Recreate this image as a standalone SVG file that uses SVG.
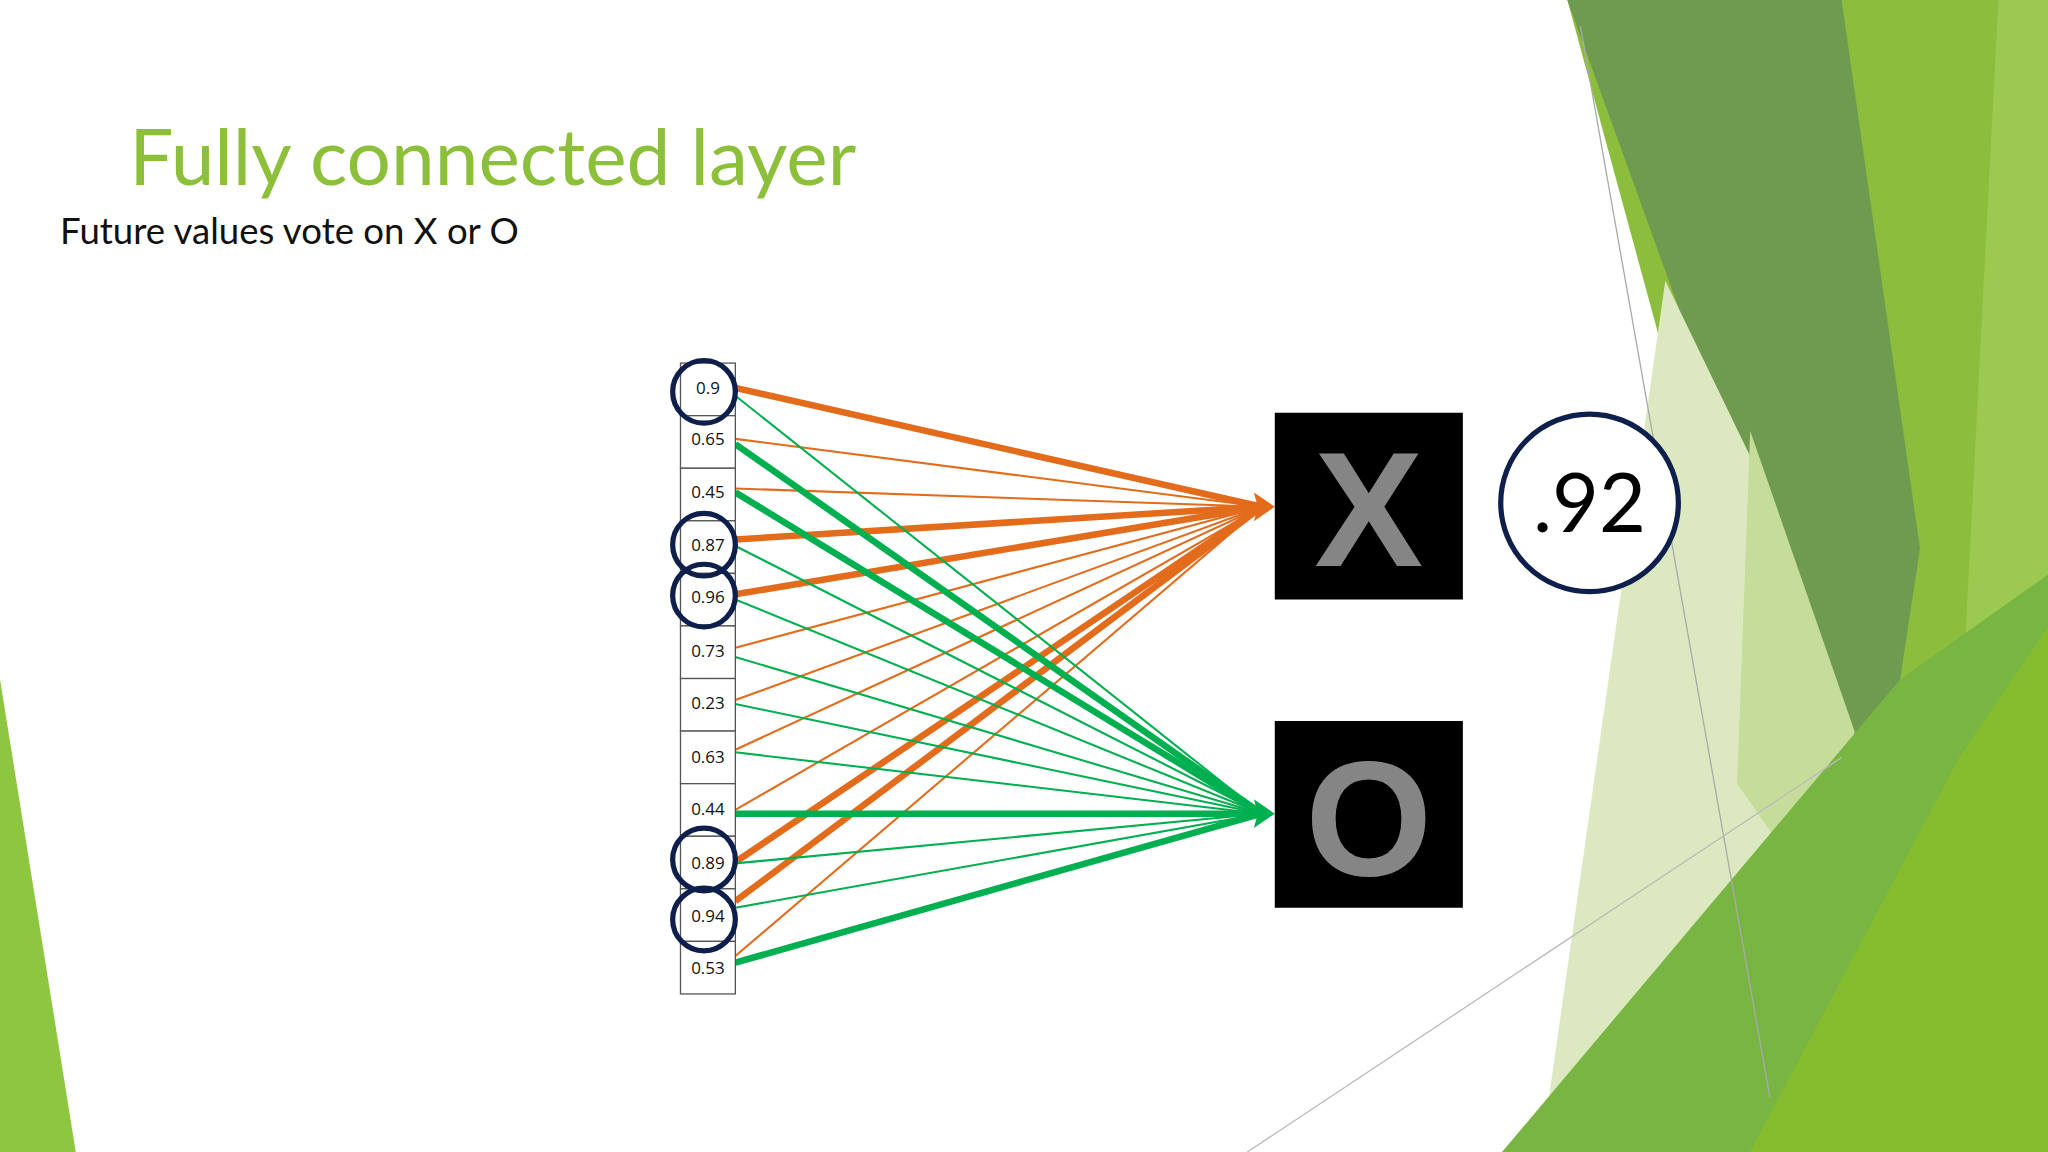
<svg xmlns="http://www.w3.org/2000/svg" width="2048" height="1152" viewBox="0 0 2048 1152">
<defs>
<style>
.o{stroke:#e36b1c;fill:none}
.g{stroke:#00b050;fill:none}
.tk{stroke-width:5}
.tn{stroke-width:1.6}
.cell{fill:#fff;stroke:#555;stroke-width:1}
.lbl{font-family:"Open Sans",sans-serif;font-size:13px;text-anchor:middle;fill:#111}
.ring{fill:none;stroke:#0f1f4b;stroke-width:4}
</style>
</defs>
<rect width="2048" height="1152" fill="#fff"/>
<g transform="scale(1.30612)">
<g id="background">
<polygon points="0,520 58,882 0,882" fill="#8dc63f"/>
<polygon points="1200,0 1568,0 1568,882 1440,882" fill="#8dbd3c"/>
<polygon points="1530,0 1568,0 1568,882 1470,882 1500,580" fill="#9cc94f"/>
<polygon points="1200,0 1410,0 1470,420 1435,650" fill="#6f9b50"/>
<polygon points="1275,215 1350,370 1420,600 1360,882 1180,882" fill="#dce9c0"/>
<polygon points="1340,330 1420,560 1400,700 1330,600" fill="#c5dc9a"/>
<polygon points="1150,882 1455,520 1568,440 1568,882" fill="#79b543"/>
<polygon points="1340,882 1500,580 1568,480 1568,882" fill="#86bd2f"/>
<line x1="1210" y1="20" x2="1355" y2="840" stroke="#aaa" stroke-width="1"/>
<line x1="955" y1="882" x2="1410" y2="580" stroke="#bbb" stroke-width="1"/>
</g>
<g id="title">
<text x="99" y="142" font-family="Lato, 'Open Sans', sans-serif" font-size="60" fill="#8cbf3a">Fully connected layer</text>
<text x="46" y="187" font-family="Lato, 'Open Sans', sans-serif" font-size="28" fill="#111">Future values vote on X or O</text>
</g>
<g id="connectors">
<line class="o tk" x1="563" y1="297" x2="966" y2="388"/>
<line class="o tn" x1="563" y1="336" x2="966" y2="388"/>
<line class="o tn" x1="563" y1="374" x2="966" y2="388"/>
<line class="o tk" x1="563" y1="413" x2="966" y2="388"/>
<line class="o tk" x1="563" y1="455" x2="966" y2="388"/>
<line class="o tn" x1="563" y1="496" x2="966" y2="388"/>
<line class="o tn" x1="563" y1="536" x2="966" y2="388"/>
<line class="o tn" x1="563" y1="574" x2="966" y2="388"/>
<line class="o tn" x1="563" y1="620" x2="966" y2="388"/>
<line class="o tk" x1="563" y1="660" x2="966" y2="388"/>
<line class="o tk" x1="563" y1="690" x2="966" y2="388"/>
<line class="o tn" x1="563" y1="732" x2="966" y2="388"/>
<line class="g tn" x1="563" y1="303" x2="966" y2="623"/>
<line class="g tk" x1="563" y1="340" x2="966" y2="623"/>
<line class="g tk" x1="563" y1="377" x2="966" y2="623"/>
<line class="g tn" x1="563" y1="418" x2="966" y2="623"/>
<line class="g tn" x1="563" y1="459" x2="966" y2="623"/>
<line class="g tn" x1="563" y1="503" x2="966" y2="623"/>
<line class="g tn" x1="563" y1="539" x2="966" y2="623"/>
<line class="g tn" x1="563" y1="576" x2="966" y2="623"/>
<line class="g tk" x1="563" y1="623" x2="966" y2="623"/>
<line class="g tn" x1="563" y1="661" x2="966" y2="623"/>
<line class="g tn" x1="563" y1="695" x2="966" y2="623"/>
<line class="g tk" x1="563" y1="737" x2="966" y2="623"/>
<polygon points="976,388 960,377 963,388 960,399" fill="#e36b1c"/>
<polygon points="976,623 960,612 963,623 960,634" fill="#00b050"/>
</g>
<g id="values">
<rect class="cell" x="521" y="278" width="42" height="40.25"/>
<rect class="cell" x="521" y="318.25" width="42" height="40.25"/>
<rect class="cell" x="521" y="358.5" width="42" height="40.25"/>
<rect class="cell" x="521" y="398.75" width="42" height="40.25"/>
<rect class="cell" x="521" y="439" width="42" height="40.25"/>
<rect class="cell" x="521" y="479.25" width="42" height="40.25"/>
<rect class="cell" x="521" y="519.5" width="42" height="40.25"/>
<rect class="cell" x="521" y="559.75" width="42" height="40.25"/>
<rect class="cell" x="521" y="600" width="42" height="40.25"/>
<rect class="cell" x="521" y="640.25" width="42" height="40.25"/>
<rect class="cell" x="521" y="680.5" width="42" height="40.25"/>
<rect class="cell" x="521" y="720.75" width="42" height="40.25"/>
<text class="lbl" x="542" y="302">0.9</text>
<text class="lbl" x="542" y="341">0.65</text>
<text class="lbl" x="542" y="381">0.45</text>
<text class="lbl" x="542" y="422">0.87</text>
<text class="lbl" x="542" y="462">0.96</text>
<text class="lbl" x="542" y="503">0.73</text>
<text class="lbl" x="542" y="543">0.23</text>
<text class="lbl" x="542" y="584">0.63</text>
<text class="lbl" x="542" y="624">0.44</text>
<text class="lbl" x="542" y="665">0.89</text>
<text class="lbl" x="542" y="706">0.94</text>
<text class="lbl" x="542" y="746">0.53</text>
<circle class="ring" cx="539" cy="300" r="24"/>
<circle class="ring" cx="539" cy="417" r="24"/>
<circle class="ring" cx="539" cy="456" r="24"/>
<circle class="ring" cx="539" cy="658" r="24"/>
<circle class="ring" cx="539" cy="704" r="24"/>
</g>
<g id="nodeX">
<rect x="976" y="316" width="144" height="143" fill="#000"/>
<text x="1048" y="433" font-family="'Liberation Sans',sans-serif" font-weight="bold" font-size="125" text-anchor="middle" fill="#858585">X</text>
</g>
<g id="nodeO">
<rect x="976" y="552" width="144" height="143" fill="#000"/>
<text x="1048" y="670" font-family="'Liberation Sans',sans-serif" font-weight="bold" font-size="125" text-anchor="middle" fill="#858585">O</text>
</g>
<g id="score">
<circle cx="1217" cy="385" r="68" fill="#fff" stroke="#0f1f4b" stroke-width="4"/>
<text x="1217" y="407" font-family="Lato,'Open Sans',sans-serif" font-size="62" text-anchor="middle" fill="#000">.92</text>
</g>
</g>
</svg>
